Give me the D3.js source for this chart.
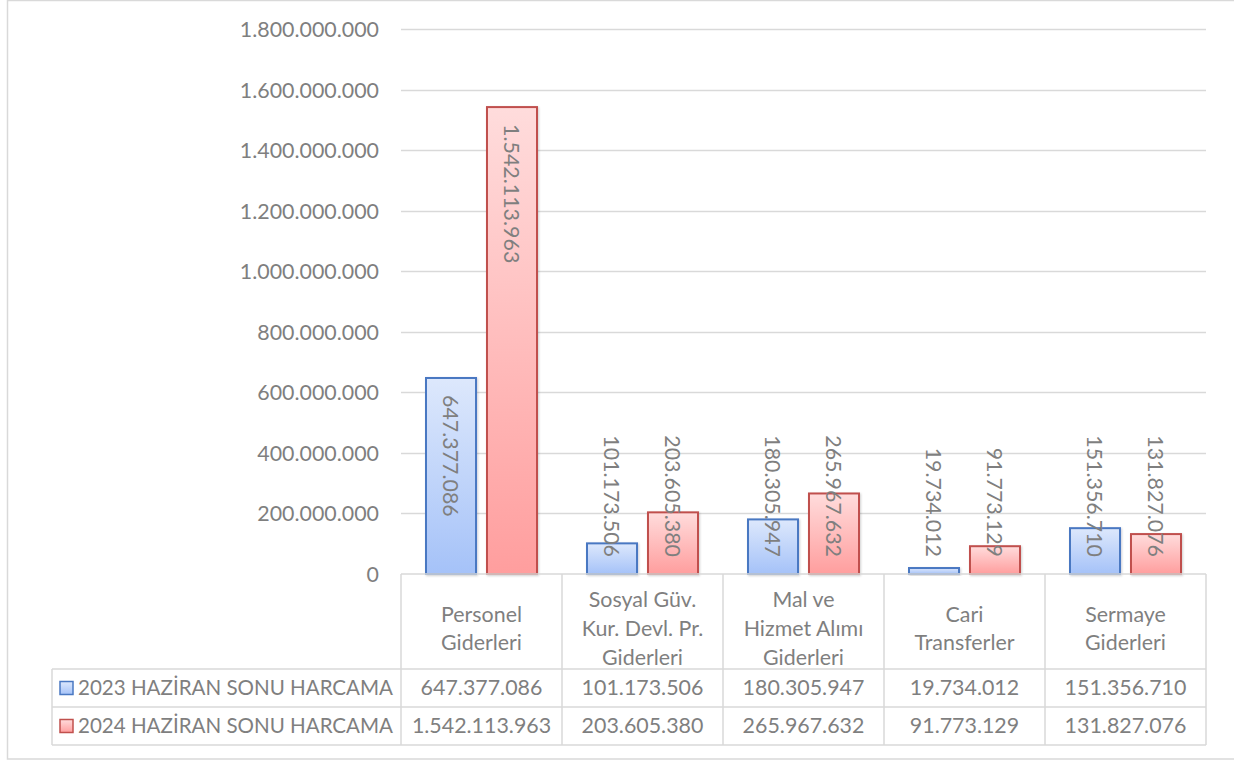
<!DOCTYPE html>
<html><head><meta charset="utf-8">
<script src="https://cdn.jsdelivr.net/npm/d3@7/dist/d3.min.js"></script>
<style>
html,body{margin:0;padding:0;background:#fff;}
text{font-family:Lato,"Open Sans",sans-serif;fill:#7f7f7f;}
</style></head>
<body><svg id="c" width="1234" height="760"></svg>
<script>
const categories = [["Personel","Giderleri"],["Sosyal Güv.","Kur. Devl. Pr.","Giderleri"],["Mal ve","Hizmet Alımı","Giderleri"],["Cari","Transferler"],["Sermaye","Giderleri"]];
const seriesNames = ["2023 HAZİRAN SONU HARCAMA","2024 HAZİRAN SONU HARCAMA"];
const values2023 = [647377086,101173506,180305947,19734012,151356710];
const values2024 = [1542113963,203605380,265967632,91773129,131827076];
const yTicks = [0,200000000,400000000,600000000,800000000,1000000000,1200000000,1400000000,1600000000,1800000000];

const FS = 21.4;
const fmt = v => d3.format(",")(v).replace(/,/g,".");
const svg = d3.select("#c");
const defs = svg.append("defs");
const styles = [
  {top:"#dde8fc",bot:"#a5c2f8",stroke:"#4a78c2"},
  {top:"#ffdcdc",bot:"#ff9e9e",stroke:"#c0504d"}
];
styles.forEach((s,i)=>{
  const g = defs.append("linearGradient").attr("id","g"+i).attr("x1",0).attr("y1",0).attr("x2",0).attr("y2",1);
  g.append("stop").attr("offset","0%").attr("stop-color",s.top);
  g.append("stop").attr("offset","100%").attr("stop-color",s.bot);
});
const f = defs.append("filter").attr("id","sh").attr("x","-20%").attr("y","-20%").attr("width","140%").attr("height","140%");
f.append("feDropShadow").attr("dx",1).attr("dy",1).attr("stdDeviation",1.2).attr("flood-color","#000").attr("flood-opacity",0.18);

// outer border
svg.append("rect").attr("x",7.5).attr("y",0.5).attr("width",1240).attr("height",758.5)
  .attr("fill","none").attr("stroke","#d9d9d9").attr("stroke-width",1.5);

const x0 = 401, x1 = 1206, yBase = 574, yTop = 29;
const catIdx = categories.map((d,i)=>i);
const x = d3.scaleBand().domain(catIdx).range([x0,x1]).padding(0);
const xs = d3.scaleBand().domain([0,1]).range([0,x.bandwidth()]).paddingInner(0.18).paddingOuter(0.41);
const y = d3.scaleLinear().domain([0,1800000000]).range([yBase,yTop]);

// gridlines
svg.append("g").selectAll("line").data(yTicks.slice(1)).join("line")
  .attr("x1",x0).attr("x2",x1).attr("y1",d=>Math.round(y(d))+0.5).attr("y2",d=>Math.round(y(d))+0.5)
  .attr("stroke","#d9d9d9").attr("stroke-width",1.5);

// y axis labels
const yAxis = d3.axisLeft(y).tickValues(yTicks).tickFormat(fmt).tickSize(0).tickPadding(0);
const ya = svg.append("g").attr("transform","translate(379,0)").call(yAxis);
ya.select(".domain").remove();
ya.selectAll("text").style("font-family","Lato").style("font-size",FS+"px").attr("fill","#7f7f7f").attr("dy","0.35em");

// bars
const data = [values2023, values2024];
data.forEach((vals,si)=>{
  svg.append("g").selectAll("rect").data(vals).join("rect")
    .attr("x",(d,i)=>x(i)+xs(si))
    .attr("y",d=>y(d))
    .attr("width",xs.bandwidth())
    .attr("height",d=>yBase-y(d))
    .attr("fill","url(#g"+si+")")
    .attr("stroke",styles[si].stroke).attr("stroke-width",2)
    .attr("filter","url(#sh)");
});
// bar labels
data.forEach((vals,si)=>{
  vals.forEach((v,i)=>{
    const cx = x(i)+xs(si)+xs.bandwidth()/2;
    const t = svg.append("text").text(fmt(v)).style("font-size",FS+"px")
      .attr("dominant-baseline","central");
    const len = t.node().getComputedTextLength();
    const start = Math.min(y(v)+17, 557-len);
    t.attr("transform",`translate(${cx},${start}) rotate(90)`);
  });
});

// table
const tb = svg.append("g");
const rowTops = [574,669,707,745];
const lc = "#d9d9d9";
function line(xa,ya_,xb,yb){tb.append("line").attr("x1",xa).attr("y1",ya_).attr("x2",xb).attr("y2",yb).attr("stroke",lc).attr("stroke-width",1.5);}
line(x0,574,x1,574);
line(52,669,x1,669);
line(52,707,x1,707);
line(52,745,x1,745);
line(52,669,52,745);
catIdx.forEach(i=>line(x(i),574,x(i),745));
line(x1,574,x1,745);

// category labels
categories.forEach((lines,i)=>{
  const cx = x(i)+x.bandwidth()/2;
  const lh = 28.7;
  const mid = 628.5;
  lines.forEach((ln,k)=>{
    svg.append("text").text(ln).attr("x",cx).attr("y",mid + (k-(lines.length-1)/2)*lh)
      .attr("text-anchor","middle").attr("dy","0.35em").style("font-size",FS+"px");
  });
});
// values rows
data.forEach((vals,si)=>{
  const cy = (rowTops[si+1]+rowTops[si+2])/2;
  vals.forEach((v,i)=>{
    svg.append("text").text(fmt(v)).attr("x",x(i)+x.bandwidth()/2).attr("y",cy)
      .attr("text-anchor","middle").attr("dy","0.35em").style("font-size",FS+"px");
  });
  svg.append("rect").attr("x",60).attr("y",cy-6.5).attr("width",13).attr("height",13)
    .attr("fill","url(#g"+si+")").attr("stroke",styles[si].stroke).attr("stroke-width",1.5);
  svg.append("text").text(seriesNames[si]).attr("x",78).attr("y",cy).attr("dy","0.35em")
    .attr("textLength",315).attr("lengthAdjust","spacingAndGlyphs").style("font-size",FS+"px");
});
</script></body></html>
